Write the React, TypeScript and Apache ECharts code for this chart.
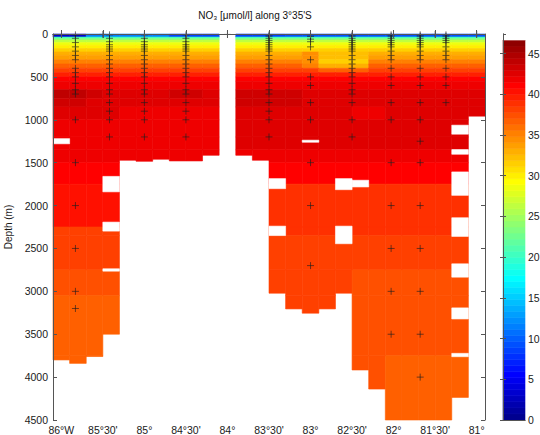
import React, { useEffect, useRef } from "react";
import * as echarts from "echarts";

const N = null;

// Column centres of the gridded section (degrees east, negative = west)
const lonCenters = [
  -86.0, -85.8, -85.6, -85.4, -85.2, -85.0, -84.8, -84.6, -84.4, -84.2, -84.0, -83.8, -83.6,
  -83.4, -83.2, -83.0, -82.8, -82.6, -82.4, -82.2, -82.0, -81.8, -81.6, -81.4, -81.2, -81.0,
];
const cellHalfWidth = 0.1;

// Depth edges of the gridded rows (m)
const depthEdges = [
  0, 35, 50, 70, 100, 130, 170, 210, 250, 300, 350, 400, 450, 500, 550, 650, 750, 850, 1000,
  1200, 1350, 1500, 1750, 2250, 2350, 2750, 3050, 3750, 4500,
];

// Deepest valid value in each column (m)
const bottomDepth = [
  3800, 3840, 3760, 3500, 1472, 1484, 1460, 1480, 1480, 1414, 0, 1414, 1472, 3022, 3205, 3255,
  3205, 3022, 3917, 4139, 4500, 4500, 4500, 4500, 4237, 958,
];

// Missing cells inside columns: [column index, top depth, bottom depth]
const gapCells = [
  [0, 1220, 1280],
  [3, 1660, 1840],
  [3, 2193, 2298],
  [3, 2737, 2765],
  [13, 1686, 1803],
  [13, 2240, 2350],
  [15, 1238, 1262],
  [17, 1686, 1815],
  [17, 2240, 2445],
  [18, 1705, 1783],
  [24, 1063, 1168],
  [24, 1347, 1402],
  [24, 1608, 1881],
  [24, 2142, 2360],
  [24, 2679, 2835],
  [24, 3193, 3322],
  [24, 3723, 3762],
];

// NO3 (umol/l) for each depth row (rows) and column (26 columns)
const no3Rows = [
  [3.3, 3.3, 11.5, 11.5, 11.5, 11.5, 11.5, 8.5, 8.5, 8.5, N, 8.5, 8.5, 8.5, 9.2, 9.2, 9.2, 9.2, 9.2, 9.2, 9.2, 9.2, 9.2, 9.2, 9.2, 9.2],
  [20.3, 20.3, 20.3, 20.3, 20.3, 20.3, 20.3, 20.3, 20.3, 20.3, N, 20.3, 20.3, 20.3, 20.3, 20.3, 20.3, 20.3, 20.3, 20.3, 20.3, 20.3, 20.3, 20.3, 20.3, 20.3],
  [23.3, 23.3, 23.3, 23.3, 23.3, 23.3, 23.3, 23.3, 23.3, 23.3, N, 23.3, 23.3, 23.3, 23.3, 23.3, 23.3, 23.3, 23.3, 23.3, 23.3, 23.3, 23.3, 23.3, 23.3, 23.3],
  [26.3, 26.3, 26.3, 26.3, 26.3, 26.3, 26.3, 26.3, 26.3, 26.3, N, 26.3, 26.3, 26.3, 26.3, 26.3, 26.3, 26.3, 26.3, 26.3, 26.3, 26.3, 26.3, 26.3, 26.3, 26.3],
  [28.5, 28.5, 28.5, 28.5, 28.5, 28.5, 28.5, 28.5, 28.5, 28.5, N, 28.5, 28.5, 28.5, 28.5, 28.5, 28.5, 28.5, 28.5, 28.5, 28.5, 28.5, 28.5, 28.5, 28.5, 28.5],
  [29.9, 29.9, 29.9, 29.9, 29.9, 29.9, 29.9, 29.9, 29.9, 29.9, N, 29.9, 29.9, 29.9, 29.9, 29.9, 29.9, 29.9, 29.9, 29.9, 29.9, 29.9, 29.9, 29.9, 29.9, 29.9],
  [31.4, 31.4, 31.4, 31.4, 31.4, 31.4, 31.4, 31.4, 31.4, 31.4, N, 31.4, 31.4, 31.4, 31.4, 31.4, 31.4, 31.4, 31.4, 31.4, 31.4, 31.4, 31.4, 31.4, 31.4, 31.4],
  [32.9, 32.9, 32.9, 32.9, 32.9, 32.9, 32.9, 32.9, 32.9, 32.9, N, 32.9, 32.9, 32.9, 32.9, 34.4, 32.2, 32.2, 32.2, 32.9, 32.9, 32.9, 32.9, 32.9, 32.9, 32.9],
  [34.0, 34.0, 34.0, 34.0, 34.0, 34.0, 34.0, 34.0, 34.0, 34.0, N, 34.0, 34.0, 34.0, 34.0, 34.4, 32.2, 32.2, 32.2, 34.0, 34.0, 34.0, 34.0, 34.0, 34.0, 34.0],
  [35.1, 35.1, 35.1, 35.1, 35.1, 35.1, 35.1, 35.1, 35.1, 35.1, N, 35.1, 35.1, 35.1, 35.1, 34.4, 31.4, 31.4, 31.4, 35.1, 35.1, 35.1, 35.1, 35.1, 35.1, 35.1],
  [36.6, 36.6, 36.6, 36.6, 36.6, 36.6, 36.6, 36.6, 36.6, 36.6, N, 36.6, 36.6, 36.6, 36.6, 35.1, 32.9, 32.9, 32.9, 36.6, 36.6, 36.6, 36.6, 36.6, 36.6, 36.6],
  [38.2, 38.2, 38.2, 38.2, 38.2, 38.2, 38.2, 38.2, 38.2, 38.2, N, 38.2, 38.2, 38.2, 38.2, 38.2, 36.6, 36.6, 36.6, 38.2, 38.2, 38.2, 38.2, 38.2, 38.2, 38.2],
  [39.6, 39.6, 39.6, 39.6, 39.6, 39.6, 39.6, 39.6, 39.6, 39.6, N, 39.6, 39.6, 39.6, 39.6, 39.6, 39.6, 39.6, 39.6, 39.6, 39.6, 39.6, 39.6, 39.6, 39.6, 39.6],
  [41.0, 41.0, 41.0, 41.0, 41.0, 41.0, 41.0, 41.0, 41.0, 41.0, N, 41.0, 41.0, 41.0, 41.0, 41.0, 41.0, 41.0, 41.0, 41.0, 41.0, 41.0, 41.0, 41.0, 41.0, 41.0],
  [41.8, 41.8, 41.8, 41.8, 41.8, 41.8, 41.8, 41.8, 41.8, 41.8, N, 41.8, 41.8, 41.8, 41.8, 41.8, 41.8, 41.8, 41.8, 41.8, 41.8, 41.8, 41.8, 41.8, 41.8, 41.8],
  [44.0, 44.0, 43.3, 42.6, 42.6, 42.6, 42.6, 43.3, 43.3, 42.6, N, 43.3, 43.3, 43.3, 43.3, 42.6, 42.6, 42.6, 42.6, 42.6, 42.6, 42.6, 42.6, 42.6, 42.6, 42.6],
  [43.3, 43.3, 42.6, 42.6, 42.6, 42.6, 42.6, 42.6, 42.6, 42.6, N, 43.3, 43.3, 43.3, 43.3, 42.6, 42.6, 42.6, 42.6, 42.6, 42.6, 42.6, 42.6, 42.6, 42.6, 42.6],
  [42.6, 42.6, 42.6, 42.6, 41.8, 41.8, 41.8, 41.8, 41.8, 41.8, N, 42.6, 42.6, 42.6, 42.6, 42.6, 42.6, 42.6, 41.8, 41.8, 42.6, 42.6, 42.6, 42.6, 42.6, 42.6],
  [41.8, 41.8, 41.8, 41.8, 41.8, 41.8, 41.8, 41.8, 41.8, 41.8, N, 42.6, 42.6, 42.6, 42.6, 42.6, 42.6, 42.6, 42.6, 42.6, 42.6, 42.6, 42.6, 42.6, 42.6, 42.6],
  [41.8, 41.8, 41.8, 41.8, 41.8, 41.8, 41.8, 41.8, 41.8, 41.8, N, 42.6, 42.6, 42.6, 42.6, 42.6, 42.6, 42.6, 42.6, 42.6, 42.6, 42.6, 42.6, 42.6, 42.6, 42.6],
  [41.8, 41.8, 41.8, 41.8, 41.8, 41.8, 41.8, 41.8, 41.8, 41.8, N, 41.8, 41.8, 41.8, 41.8, 41.8, 41.8, 41.8, 41.8, 41.8, 41.8, 41.8, 41.8, 41.8, 41.8, 41.8],
  [41.0, 41.0, 41.0, 41.0, 41.0, 41.0, 41.0, 41.0, 41.0, 41.0, N, 41.0, 41.0, 41.0, 41.0, 41.0, 41.0, 41.0, 41.0, 41.0, 41.0, 41.0, 41.0, 41.0, 41.0, 41.0],
  [40.3, 40.3, 40.3, 40.3, 40.3, 40.3, 40.3, 40.3, 40.3, 40.3, N, 38.9, 38.9, 38.9, 38.9, 38.9, 38.9, 38.9, 38.9, 38.9, 38.9, 38.9, 38.9, 38.9, 38.9, 38.9],
  [38.2, 38.2, 38.2, 38.2, 38.2, 38.2, 38.2, 38.2, 38.2, 38.2, N, 38.9, 38.9, 38.9, 38.9, 38.9, 38.9, 38.9, 38.9, 38.9, 38.9, 38.9, 38.9, 38.9, 38.9, 38.9],
  [38.2, 38.2, 38.2, 38.2, 38.2, 38.2, 38.2, 38.2, 38.2, 38.2, N, 38.2, 38.2, 38.2, 38.2, 38.2, 38.2, 38.2, 38.2, 38.2, 38.2, 38.2, 38.2, 38.2, 38.2, 38.2],
  [37.4, 37.4, 37.4, 37.4, 37.4, 37.4, 37.4, 37.4, 37.4, 37.4, N, 38.2, 38.2, 38.2, 38.2, 38.2, 38.2, 38.2, 37.4, 37.4, 37.4, 37.4, 37.4, 37.4, 37.4, 37.4],
  [36.7, 36.7, 36.7, 36.7, 36.7, 36.7, 36.7, 36.7, 36.7, 36.7, N, 38.2, 38.2, 38.2, 38.2, 38.2, 38.2, 38.2, 37.4, 37.4, 37.4, 37.4, 37.4, 37.4, 37.4, 37.4],
  [36.7, 36.7, 36.7, 36.7, 36.7, 36.7, 36.7, 36.7, 36.7, 36.7, N, 38.2, 38.2, 38.2, 38.2, 38.2, 38.2, 38.2, 37.4, 37.4, 36.7, 36.7, 36.7, 36.7, 36.7, 36.7],
];

// Bottle sample positions
const stationLon = [-85.83, -85.42, -85.0, -84.5, -83.5, -83.0, -82.5, -82.03, -81.68, -81.37];
const stationDepths = [
  [10, 50, 100, 150, 200, 250, 300, 400, 450, 500, 575, 650, 700, 1000, 1500, 2000, 2500, 3000, 3200],
  [10, 50, 90, 125, 150, 175, 200, 250, 300, 350, 400, 450, 500, 575, 650, 700, 800, 900, 1000, 1200],
  [10, 50, 90, 125, 150, 175, 200, 250, 300, 350, 400, 450, 500, 575, 650, 700, 800, 900, 1000, 1200],
  [10, 50, 90, 125, 150, 175, 200, 250, 300, 350, 400, 450, 500, 575, 650, 700, 800, 900, 1000, 1200],
  [10, 25, 50, 75, 100, 125, 150, 175, 200, 250, 300, 350, 400, 450, 500, 575, 650, 700, 800, 900, 1000, 1200],
  [10, 30, 60, 90, 150, 300, 500, 600, 800, 1000, 1500, 2000, 2700],
  [10, 25, 50, 75, 100, 125, 150, 175, 200, 250, 300, 350, 400, 450, 500, 575, 650, 700, 800, 1000, 1200],
  [10, 25, 50, 75, 100, 125, 150, 200, 250, 300, 400, 500, 600, 800, 1000, 1500, 2000, 2500, 3000, 3500],
  [10, 25, 50, 75, 100, 125, 150, 200, 250, 300, 400, 500, 600, 800, 1000, 1250, 1500, 2000, 2500, 3000, 3500, 4000],
  [10, 25, 50, 75, 100, 150, 200, 250, 300, 400, 500, 600, 800],
];
const surfaceOnlyLon = [-85.5, -84.0, -81.5, -81.0];
const surfaceOnlyDepth = 5;

const xTickValues = [-86, -85.5, -85, -84.5, -84, -83.5, -83, -82.5, -82, -81.5, -81];
const xTickLabels = ["86°W", "85°30'", "85°", "84°30'", "84°", "83°30'", "83°", "82°30'", "82°", "81°30'", "81°"];
const colorMin = 0;
const colorMax = 47.4;
const titleText = "NO₃ [μmol/l] along 3°35'S";

// MATLAB jet(64), top entry white
function jetColor(j: number): string {
  if (j >= 64) return "#ffffff";
  const u = (idx: number) => {
    if (idx < 1 || idx > 47) return 0;
    if (idx <= 16) return idx / 16;
    if (idx <= 31) return 1;
    return (48 - idx) / 16;
  };
  const r = j >= 25 ? u(j - 24) : 0;
  const g = j >= 9 && j <= 55 ? u(j - 8) : 0;
  const b = j <= 39 ? u(j + 8) : 0;
  const h = (x: number) => Math.round(x * 255);
  return `rgb(${h(r)},${h(g)},${h(b)})`;
}
function valueColor(v: number): string {
  let j = Math.floor(((v - colorMin) / (colorMax - colorMin)) * 64) + 1;
  j = Math.max(1, Math.min(64, j));
  return jetColor(j);
}

export default function App() {
  const ref = useRef<HTMLDivElement>(null);
  useEffect(() => {
    if (!ref.current) return;
    const chart = echarts.init(ref.current, undefined, { renderer: "svg" });

    const cells: number[][] = [];
    no3Rows.forEach((row, r) => {
      row.forEach((v, k) => {
        if (v === null || v === undefined) return;
        const d0 = depthEdges[r];
        const d1 = Math.min(depthEdges[r + 1], bottomDepth[k]);
        if (d1 <= d0) return;
        cells.push([lonCenters[k] - cellHalfWidth, lonCenters[k] + cellHalfWidth, d0, d1, v]);
      });
    });
    const gaps = gapCells.map(([k, d0, d1]) => [
      lonCenters[k] - cellHalfWidth,
      lonCenters[k] + cellHalfWidth,
      d0,
      d1,
    ]);
    const markers: number[][] = [];
    stationLon.forEach((lon, i) => stationDepths[i].forEach((d) => markers.push([lon, d])));
    surfaceOnlyLon.forEach((lon) => markers.push([lon, surfaceOnlyDepth]));

    const step = (colorMax - colorMin) / 64;
    const cbar: number[][] = [];
    for (let i = 0; i < 64; i++) cbar.push([0, 1, colorMin + i * step, colorMin + (i + 1) * step, i + 1]);

    const rectItem = (params: any, api: any, fill: string, stroke: boolean) => {
      const p0 = api.coord([api.value(0), api.value(2)]);
      const p1 = api.coord([api.value(1), api.value(3)]);
      return {
        type: "rect",
        shape: { x: p0[0], y: p0[1], width: p1[0] - p0[0], height: p1[1] - p0[1] },
        style: stroke ? { fill, stroke: fill, lineWidth: 0.6 } : { fill },
      };
    };

    const axisColor = "#555";
    const labelColor = "#1a1a1a";
    const font = "'Liberation Sans', Arial, sans-serif";

    chart.setOption({
      animation: false,
      backgroundColor: "#ffffff",
      textStyle: { fontFamily: font },
      graphic: [
        {
          type: "text",
          x: 255,
          y: 15,
          style: {
            text: titleText,
            fill: "#111",
            font: `10px ${font}`,
            textAlign: "center",
            textVerticalAlign: "middle",
          },
        },
      ],
      grid: [
        { left: 53, top: 34, width: 432, height: 386, outerBoundsMode: "none", containLabel: false },
        { left: 503, top: 34, width: 22, height: 386, outerBoundsMode: "none", containLabel: false },
      ],
      xAxis: [
        {
          gridIndex: 0,
          type: "value",
          min: -86.1,
          max: -80.9,
          position: "bottom",
          z: 10,
          axisLine: { show: true, lineStyle: { color: axisColor, width: 1 } },
          axisTick: { show: true, inside: true, length: 4, customValues: xTickValues, lineStyle: { color: axisColor } },
          axisLabel: {
            show: true,
            customValues: xTickValues,
            margin: 4,
            fontSize: 10.5,
            color: labelColor,
            fontFamily: font,
            formatter: (v: number) => {
              const i = xTickValues.findIndex((t) => Math.abs(t - v) < 1e-6);
              return i >= 0 ? xTickLabels[i] : "";
            },
          },
          splitLine: { show: false },
        },
        {
          gridIndex: 0,
          type: "value",
          min: -86.1,
          max: -80.9,
          position: "top",
          z: 10,
          axisLine: { show: true, lineStyle: { color: axisColor, width: 1 } },
          axisTick: { show: true, inside: true, length: 4, customValues: xTickValues, lineStyle: { color: axisColor } },
          axisLabel: { show: false },
          splitLine: { show: false },
        },
        {
          gridIndex: 1,
          type: "value",
          min: 0,
          max: 1,
          position: "bottom",
          z: 10,
          axisLine: { show: true, lineStyle: { color: axisColor, width: 1 } },
          axisTick: { show: false },
          axisLabel: { show: false },
          splitLine: { show: false },
        },
        {
          gridIndex: 1,
          type: "value",
          min: 0,
          max: 1,
          position: "top",
          z: 10,
          axisLine: { show: true, lineStyle: { color: axisColor, width: 1 } },
          axisTick: { show: false },
          axisLabel: { show: false },
          splitLine: { show: false },
        },
      ],
      yAxis: [
        {
          gridIndex: 0,
          type: "value",
          inverse: true,
          min: 0,
          max: 4500,
          interval: 500,
          position: "left",
          z: 10,
          name: "Depth (m)",
          nameLocation: "middle",
          nameGap: 34,
          nameRotate: 90,
          nameTextStyle: { fontSize: 10, color: labelColor, fontFamily: font },
          axisLine: { show: true, lineStyle: { color: axisColor, width: 1 } },
          axisTick: { show: true, inside: true, length: 4, lineStyle: { color: axisColor } },
          axisLabel: {
            show: true,
            margin: 5,
            fontSize: 10.5,
            color: labelColor,
            fontFamily: font,
            formatter: (v: number) => String(v),
          },
          splitLine: { show: false },
        },
        {
          gridIndex: 0,
          type: "value",
          inverse: true,
          min: 0,
          max: 4500,
          interval: 500,
          position: "right",
          z: 10,
          axisLine: { show: true, lineStyle: { color: axisColor, width: 1 } },
          axisTick: { show: true, inside: true, length: 4, lineStyle: { color: axisColor } },
          axisLabel: { show: false },
          splitLine: { show: false },
        },
        {
          gridIndex: 1,
          type: "value",
          min: colorMin,
          max: colorMax,
          interval: 5,
          position: "right",
          z: 10,
          axisLine: { show: true, lineStyle: { color: axisColor, width: 1 } },
          axisTick: { show: true, inside: true, length: 3, lineStyle: { color: axisColor } },
          axisLabel: {
            show: true,
            margin: 3,
            fontSize: 10.5,
            color: labelColor,
            fontFamily: font,
            showMaxLabel: false,
            formatter: (v: number) => String(v),
          },
          splitLine: { show: false },
        },
        {
          gridIndex: 1,
          type: "value",
          min: colorMin,
          max: colorMax,
          interval: 5,
          position: "left",
          z: 10,
          axisLine: { show: true, lineStyle: { color: axisColor, width: 1 } },
          axisTick: { show: true, inside: true, length: 3, lineStyle: { color: axisColor } },
          axisLabel: { show: false },
          splitLine: { show: false },
        },
      ],
      series: [
        {
          type: "custom",
          name: "NO3",
          xAxisIndex: 0,
          yAxisIndex: 0,
          data: cells,
          encode: { x: [0, 1], y: [2, 3] },
          silent: true,
          z: 2,
          renderItem: (params: any, api: any) => rectItem(params, api, valueColor(api.value(4)), true),
        },
        {
          type: "custom",
          name: "gaps",
          xAxisIndex: 0,
          yAxisIndex: 0,
          data: gaps,
          encode: { x: [0, 1], y: [2, 3] },
          silent: true,
          z: 3,
          renderItem: (params: any, api: any) => rectItem(params, api, "#ffffff", true),
        },
        {
          type: "scatter",
          name: "samples",
          xAxisIndex: 0,
          yAxisIndex: 0,
          data: markers,
          symbol: "path://M5 0L5 10M0 5L10 5",
          symbolSize: 7,
          itemStyle: { color: "rgba(0,0,0,0)", borderColor: "#1e1e1e", borderWidth: 0.8 },
          silent: true,
          z: 5,
        },
        {
          type: "custom",
          name: "colorbar",
          xAxisIndex: 2,
          yAxisIndex: 2,
          data: cbar,
          encode: { x: [0, 1], y: [2, 3] },
          silent: true,
          z: 2,
          renderItem: (params: any, api: any) => rectItem(params, api, jetColor(api.value(4)), true),
        },
      ],
    });
    return () => chart.dispose();
  }, []);
  return <div ref={ref} style={{ position: "fixed", left: 0, top: 0, width: 540, height: 435 }} />;
}
